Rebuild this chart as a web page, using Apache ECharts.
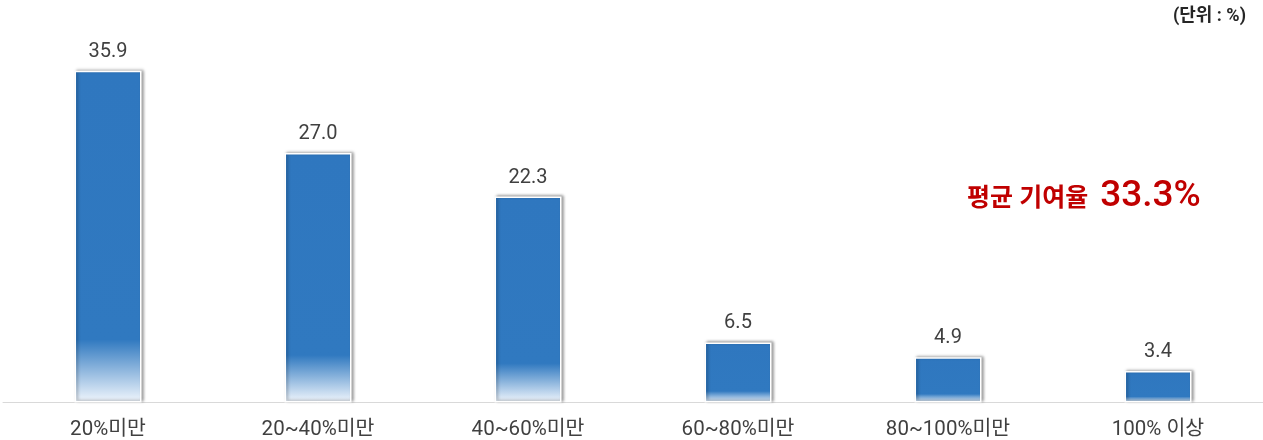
<!DOCTYPE html>
<html><head><meta charset="utf-8">
<script src="https://cdn.jsdelivr.net/npm/echarts@6/dist/echarts.min.js"></script>
<style>html,body{margin:0;padding:0;background:#fff}#c{width:1263px;height:440px}</style>
</head><body><div id="c"></div>
<script>
const categories = ['20%미만', '20~40%미만', '40~60%미만', '60~80%미만', '80~100%미만', '100% 이상'];
const values = [35.9, 27.0, 22.3, 6.5, 4.9, 3.4];
const unitText = '(단위 : %)';
const avgLabel = '평균 기여율';
const avgValue = '33.3%';

const FONT = 'Roboto, "Noto Sans CJK KR", "Noto Sans", sans-serif';
const chart = echarts.init(document.getElementById('c'));
const grad = new echarts.graphic.LinearGradient(0, 0, 0, 1, [
  {offset: 0, color: '#2f77bf'},
  {offset: 0.81, color: '#3079c0'},
  {offset: 1, color: '#f2f7fd'}
]);
chart.setOption({
  animation: false,
  grid: {left: 3, right: 0, top: 33, bottom: 37},
  xAxis: {
    type: 'category', data: categories,
    axisLine: {lineStyle: {color: '#d9d9d9', width: 1}},
    axisTick: {show: false},
    axisLabel: {color: '#404040', fontSize: 20.5, fontFamily: FONT, margin: 17}
  },
  yAxis: {type: 'value', min: 0, max: 40, show: false, splitLine: {show: false}},
  series: [{
    type: 'bar', data: values, barWidth: 67,
    itemStyle: {
      color: grad, borderColor: '#ffffff', borderWidth: 1.5,
      shadowColor: 'rgba(0,0,0,0.35)', shadowBlur: 3, shadowOffsetX: 2, shadowOffsetY: -1
    },
    label: {
      show: true, position: 'top', distance: 9,
      formatter: p => p.value.toFixed(1),
      color: '#404040', fontSize: 20, fontFamily: FONT
    }
  }],
  graphic: [
    {type: 'text', right: 17, top: 8,
     style: {text: unitText, font: 'bold 18px ' + FONT, fill: '#262626'}},
    {type: 'text', left: 967, top: 178,
     style: {
       text: '{a|' + avgLabel + '}{b|' + avgValue + '}',
       rich: {
         a: {font: 'bold 25px ' + FONT, fill: '#c00000', verticalAlign: 'bottom', padding: [0, 12, 3, 0]},
         b: {font: '500 37px ' + FONT, fill: '#c00000', verticalAlign: 'bottom'}
       }
     }}
  ]
});
</script></body></html>
